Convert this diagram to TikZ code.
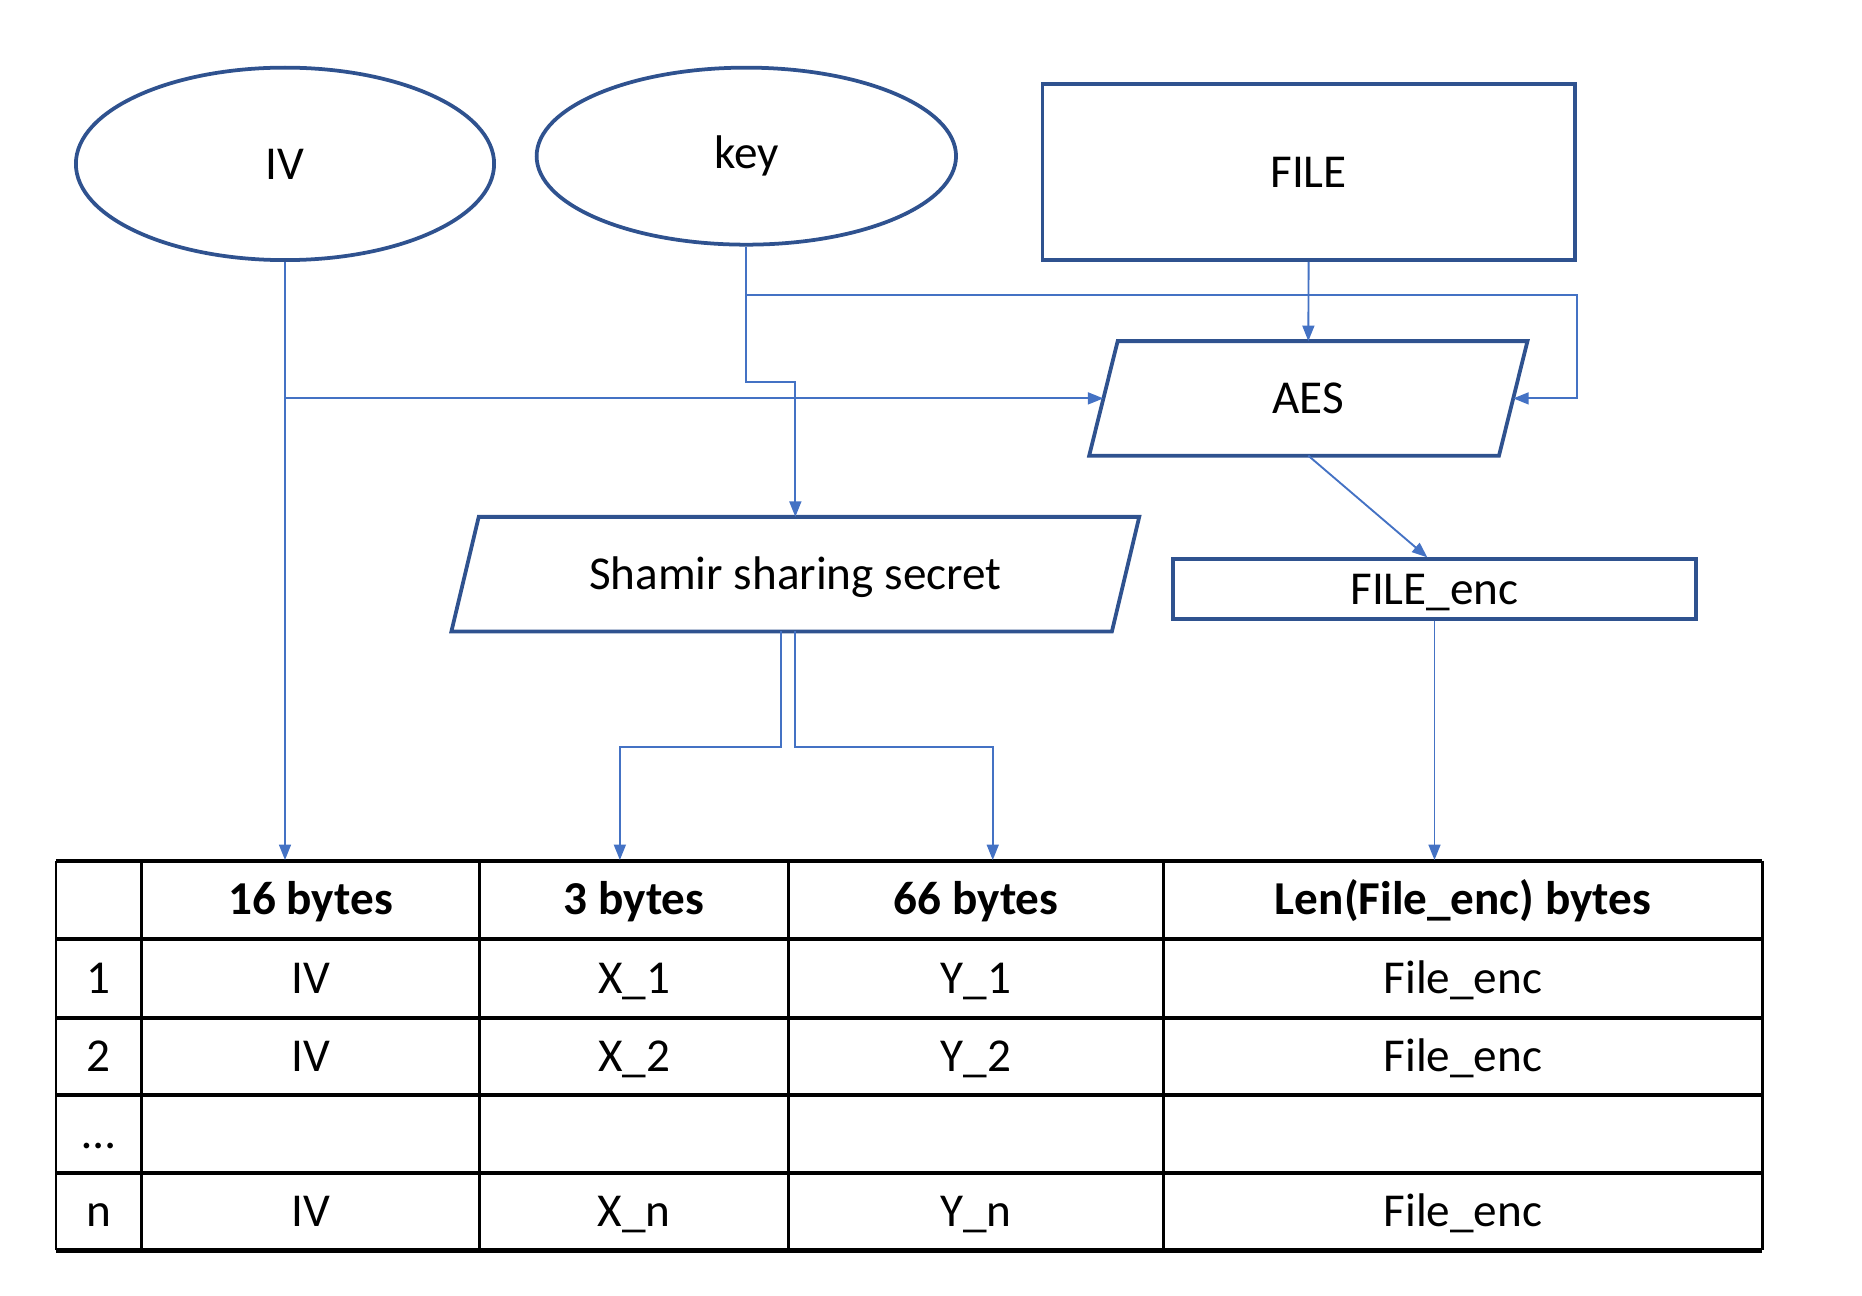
\documentclass[tikz,border=0pt]{standalone}
\usepackage{fontspec}
\setmainfont{Carlito}
\usetikzlibrary{shapes.geometric,arrows.meta,calc}
\definecolor{outl}{HTML}{2F528F}
\definecolor{link}{HTML}{4472C4}
\tikzset{
  box/.style={draw=outl, line width=0.9pt, inner sep=0pt},
  txt/.style={text height=0.26cm, text depth=0cm},
  para/.style={txt, inner sep=0pt, minimum height=0.95cm},
  conn/.style={draw=link, line width=0.45pt, -{Triangle[length=0.13cm,width=0.1cm]}},
  cell/.style={inner sep=0pt, text height=0.26cm, text depth=0.01cm},
  head/.style={cell, font=\fontsize{11.3}{13.5}\selectfont\bfseries, minimum height=0.66cm},
  tabh/.style={line width=1pt},
  tabv/.style={line width=0.6pt}
}
\begin{document}
\begin{tikzpicture}[x=0.01cm,y=-0.01cm,font=\fontsize{11.3}{13.5}\selectfont]
                %\draw[help lines] (0,0) grid (1568,1091);
                \useasboundingbox (0,0) rectangle (1568,1091);
                % inputs
                \node[box, txt, ellipse, minimum width=3.52cm, minimum height=1.62cm] (iv) at (240,138) {IV};
                \node[box, ellipse, minimum width=3.53cm, minimum height=1.49cm] (key) at (628.5,131.5) {key};
                \node[box, txt, minimum width=4.48cm, minimum height=1.48cm] (file) at (1102,145) {FILE};
                % parallelograms
                \node[para, minimum width=3.435cm] (aes) at (1101.75,335.5) {AES};
                \draw[box] ($(aes.south west)+(-12,0)$) -- ($(aes.south east)+(-12,0)$)
                    -- ($(aes.north east)+(12,0)$) -- ($(aes.north west)+(12,0)$) -- cycle;
                \node[para, minimum width=5.545cm] (sha) at (669.75,483.5) {Shamir sharing secret};
                \draw[box] ($(sha.south west)+(-11.5,0)$) -- ($(sha.south east)+(-11.5,0)$)
                    -- ($(sha.north east)+(11.5,0)$) -- ($(sha.north west)+(11.5,0)$) -- cycle;
                \node[box, txt, minimum width=4.4cm, minimum height=0.5cm] (enc) at (1208,496) {FILE\_enc};
                % table
                \foreach \y in {725,791,857,922,988,1053}
                    \draw[tabh] (47,\y) -- (1484,\y);
                \foreach \x in {47,119,404,664,980,1484}
                    \draw[tabv] (\x,725) -- (\x,1053);
                \node[head, minimum width=2.85cm] (h1) at (261.5,758) {16 bytes};
                \node[head, minimum width=2.6cm] (h2) at (534,758) {3 bytes};
                \node[head, minimum width=3.16cm] (h3) at (822,758) {66 bytes};
                \node[head, minimum width=5.04cm] (h4) at (1232,758) {Len(File\_enc) bytes};
                \foreach \yc/\r/\a/\b/\c/\d/\e in {824/1/1/IV/X\_1/Y\_1/File\_enc,
                        889.5/2/2/IV/X\_2/Y\_2/File\_enc,
                        955/3/\ldots/{}/{}/{}/{},
                        1020.5/4/n/IV/X\_n/Y\_n/File\_enc} {
                    \node[cell] (r\r c0) at (83,\yc) {\a};
                    \node[cell] (r\r c1) at (261.5,\yc) {\b};
                    \node[cell] (r\r c2) at (534,\yc) {\c};
                    \node[cell] (r\r c3) at (822,\yc) {\d};
                    \node[cell] (r\r c4) at (1232,\yc) {\e};
                }
                % connectors
                \coordinate (ivb) at (iv.south |- aes.west);
                \coordinate (kb) at ($(key.south)+(0,41)$);
                \draw[conn] (iv.south) -- (iv.south |- h1.north);
                \draw[conn] (ivb) -- (aes.west);
                \draw[conn] (key.south) -- ++(0,114) -| (sha.north);
                \draw[conn] (kb) -| (file.east |- aes.east) -- (aes.east);
                \draw[conn] (file.south) -- (aes.north);
                \draw[conn] (aes.south) -- ($(enc.north)+(-6,0)$);
                \draw[conn] ($(sha.south)+(-12,0)$) -- ++(0,97) -| ($(h2.north)+(-12,0)$);
                \draw[conn] (sha.south) -- ++(0,97) -| ($(h3.north)+(14,0)$);
                \draw[conn] (enc.south) -- (enc.south |- h4.north);
            \end{tikzpicture}
\end{document}
